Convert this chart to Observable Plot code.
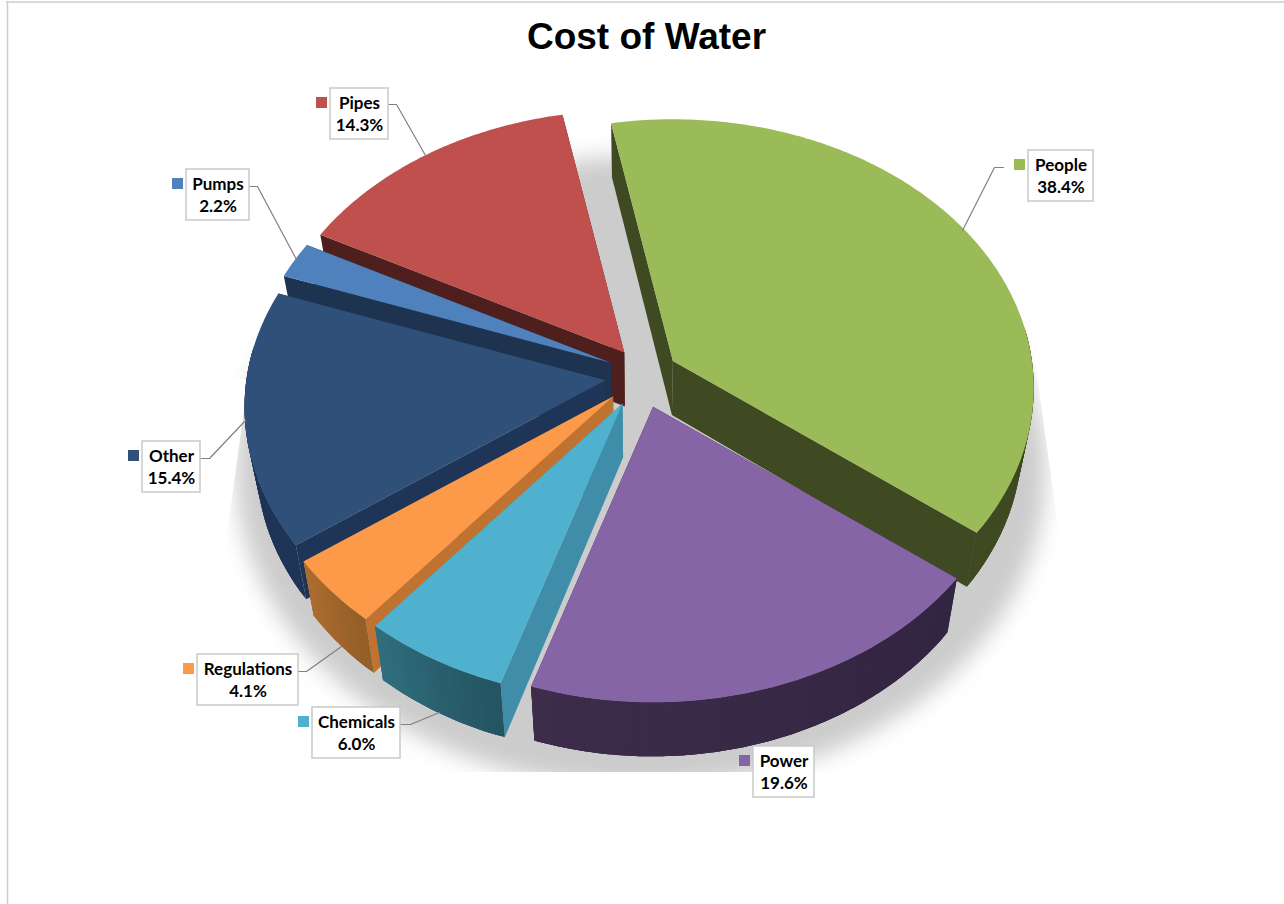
<!DOCTYPE html>
<html>
<head>
<meta charset="utf-8">
<title>Cost of Water</title>
<script src="https://cdn.jsdelivr.net/npm/d3@7"></script>
<script src="https://cdn.jsdelivr.net/npm/@observablehq/plot@0.6"></script>
<style>
html,body{margin:0;padding:0;background:#fff;overflow:hidden}
svg{display:block}
</style>
</head>
<body>
<div id="chart"></div>
<script>
// Data, in the chart's own drawing order (clockwise from the top)
const categories = ["People","Power","Chemicals","Regulations","Other","Pumps","Pipes"];
const shares     = [38.4,19.6,6.0,4.1,15.4,2.2,14.3];
const explode    = [34,27,28,30,38,33,33];
const nudgeX     = [1,2,-7,-8,0,-2,1];
const nudgeY     = [1,3,1,-2,-3,-2,1];
const topColors  = ["#9BBB59","#8565A5","#4FB1CD","#FD9A4A","#2F5078","#4F81BD","#C0504D"];
const edgeColors = ["#3F4A22","#342846","#3F8DA8","#C07231","#1F3557","#1E3350","#4E1F1D"];
const wallLight  = ["#3F4A22","#3D2D4B","#30707F","#B06E30","#1F3557","#1E3350","#4E1F1D"];
const wallDark   = ["#3F4A22","#322542","#255562","#955F2A","#1F3557","#1E3350","#4E1F1D"];
const paintOrder = ["People","Pipes","Pumps","Other","Regulations","Chemicals","Power"];

// Label placement
const labelBoxes = {
  People:[1028,150,1093,201], Power:[753,746,814,797], Chemicals:[312,707,400,758],
  Regulations:[197,654,298,705], Other:[142,441,200,492], Pumps:[186,169,249,220], Pipes:[330,88,388,139]
};
const leaders = {
  People:[[1003,167],[994,167],[962,230]],
  Chemicals:[[400,724],[410,724],[439,712]],
  Regulations:[[298,671],[306,671],[341,646]],
  Other:[[200,458],[209,458],[245,420]],
  Pumps:[[249,186],[257,186],[297,261]],
  Pipes:[[388,104],[396,104],[425,155]]
};

// Perspective pie geometry
const cx=643, cy=378, rx=359, ry=266, persp=0.1, startDeg=-10.9, depth=54, vanishX=640, shrink=0.03;
const rad=d=>d*Math.PI/180;
const total=d3.sum(shares);
function rim(deg){
  const s=Math.sin(rad(deg)), c=Math.cos(rad(deg)), w=1+persp*c;
  return [rx*s/w, -ry*c/w];
}
const down=p=>[p[0]+(vanishX-p[0])*shrink, p[1]+depth];

let acc=0;
const slices=categories.map((name,i)=>{
  const a0=startDeg+acc/total*360; acc+=shares[i];
  const a1=startDeg+acc/total*360;
  const mid=(a0+a1)/2;
  const tip=[cx+nudgeX[i]+explode[i]*Math.sin(rad(mid)), cy+nudgeY[i]-explode[i]*Math.cos(rad(mid))];
  const steps=Math.max(8,Math.round((a1-a0)*1.5));
  const angles=d3.range(steps+1).map(k=>a0+(a1-a0)*k/steps);
  const arc=angles.map(a=>{
    const r=rim(a);
    return [tip[0]+r[0],tip[1]+r[1]];
  });
  return {name,i,tip,arc,angles};
});

const polys=[];
const quad=(id,color,a,b,c,d)=>[
  {id,color,x1:a[0],y1:a[1],x2:c[0],y2:c[1]},
  {id,color,x1:b[0],y1:b[1],x2:d[0],y2:d[1]}
];
for(const name of paintOrder){
  const s=slices.find(d=>d.name===name), i=s.i, n=s.arc.length-1;
  polys.push(...quad(name+"-wall-a",edgeColors[i],s.tip,s.arc[n],down(s.tip),down(s.arc[n])));
  polys.push(...quad(name+"-wall-b",edgeColors[i],s.tip,s.arc[0],down(s.tip),down(s.arc[0])));
  const mix=d3.interpolateRgb(wallDark[i],wallLight[i]);
  // each wall strip reaches over the next one, so no seams show between them
  for(let k=n-1;k>=0;k--){
    if(Math.cos(rad(s.angles[k]))>0.1 && Math.cos(rad(s.angles[Math.min(n,k+3)]))>0.1) continue;
    const col=mix(k/(n-1||1)), e=Math.min(n,k+3), pts=d3.range(k,e+1).map(j=>s.arc[j]);
    for(const p of pts){
      const q=down(p);
      polys.push({id:name+"-arc-"+k,color:col,x1:p[0],y1:p[1],x2:q[0],y2:q[1]});
    }
  }
  for(const p of s.arc) polys.push({id:name+"-top",color:topColors[i],x1:s.tip[0],y1:s.tip[1],x2:p[0],y2:p[1]});
}

// Soft shadow behind the pie
const shadow=d3.range(0,361,3).map(d=>({
  x1:641,y1:472,
  x2:641+405*Math.sin(rad(d)),
  y2:472-316*Math.cos(rad(d))
}));
// White masks that crop the shadow
const masks=[
  {id:"l",color:"#fff",x1:0,y1:340,x2:248,y2:380},
  {id:"l",color:"#fff",x1:0,y1:600,x2:218,y2:600},
  {id:"r",color:"#fff",x1:1032,y1:340,x2:1284,y2:340},
  {id:"r",color:"#fff",x1:1060,y1:540,x2:1284,y2:540},
  {id:"b",color:"#fff",x1:0,y1:772,x2:0,y2:904},
  {id:"b",color:"#fff",x1:1284,y1:772,x2:1284,y2:904}
];

const boxes=categories.map((name,i)=>{
  const [x1,y1,x2,y2]=labelBoxes[name];
  return {name,x1,y1,x2,y2,color:topColors[i],share:shares[i]};
});
const leaderRows=Object.entries(leaders).flatMap(([name,pts])=>pts.map(p=>({name,x:p[0],y:p[1]})));
const textRows=boxes.flatMap(b=>[
  {x:(b.x1+b.x2)/2,y:b.y1+15,t:b.name},
  {x:(b.x1+b.x2)/2,y:b.y1+37,t:b.share.toFixed(1)+"%"}
]);

const plot=Plot.plot({
  width:1284,height:904,margin:0,
  x:{domain:[0,1284],range:[0,1284],axis:null},
  y:{domain:[0,904],range:[0,904],axis:null},
  color:{type:"identity"},
  style:{background:"#fff"},
  marks:[
    Plot.area(shadow,{x1:"x1",y1:"y1",x2:"x2",y2:"y2",fill:"#CCCCCC",imageFilter:"blur(11px)"}),
    Plot.area(masks,{x1:"x1",y1:"y1",x2:"x2",y2:"y2",z:"id",fill:"color"}),
    Plot.ruleY([1.5],{stroke:"#CDCDCD",strokeWidth:1.5,x1:6,x2:1284}),
    Plot.ruleX([7],{stroke:"#CDCDCD",strokeWidth:1.5,y1:1,y2:904}),
    Plot.area(polys,{x1:"x1",y1:"y1",x2:"x2",y2:"y2",z:"id",fill:"color"}),
    Plot.line(leaderRows,{x:"x",y:"y",z:"name",stroke:"#808080",strokeWidth:1.2,curve:"linear"}),
    Plot.rect(boxes,{x1:"x1",x2:"x2",y1:"y1",y2:"y2",fill:"#fff",stroke:"#C9C9C9",strokeWidth:1.5}),
    Plot.rect(boxes,{x1:d=>d.x1-14,x2:d=>d.x1-3,y1:d=>d.y1+9,y2:d=>d.y1+20,fill:"color"}),
    Plot.text(textRows,{x:"x",y:"y",text:"t",fill:"#000",fontSize:17,fontWeight:"bold",fontFamily:"Lato",lineAnchor:"middle"}),
    Plot.text(["Cost of Water"],{x:646,y:37,fill:"#000",fontSize:37,fontWeight:"bold",fontFamily:"Liberation Sans",lineAnchor:"middle"})
  ]
});
document.getElementById("chart").append(plot);
</script>
</body>
</html>
